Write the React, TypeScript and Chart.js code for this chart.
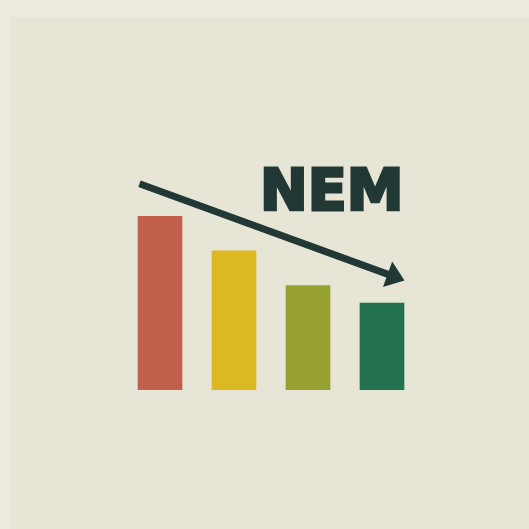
import React, { useEffect, useRef } from "react";
import { Chart, registerables } from "chart.js";

Chart.register(...registerables);

const categories = ["A", "B", "C", "D"];
const values = [100, 80, 60, 50];
const barColors = ["#C0604A", "#DCB823", "#97A12F", "#22714F"];
const title = "NEM";
// arrow endpoints in data units (y values) relative to first/last bar
const arrowStartValue = 118.5;
const arrowEndValue = 63;

const DARK = "#213835";

const overlayPlugin = {
  id: "overlay",
  afterDatasetsDraw(chart: any) {
    const { ctx, scales } = chart;
    const x = scales.x;
    const y = scales.y;
    const x0 = x.getPixelForValue(0) - 20.5;
    const y0 = y.getPixelForValue(arrowStartValue);
    const x1 = x.getPixelForValue(3) + 22.5;
    const y1 = y.getPixelForValue(arrowEndValue);
    const ang = Math.atan2(y1 - y0, x1 - x0);
    const headLen = 18;
    const headW = 13.5;
    const bx = x1 - Math.cos(ang) * headLen;
    const by = y1 - Math.sin(ang) * headLen;
    ctx.save();
    ctx.strokeStyle = DARK;
    ctx.fillStyle = DARK;
    ctx.lineWidth = 7;
    ctx.lineCap = "butt";
    ctx.beginPath();
    ctx.moveTo(x0, y0);
    ctx.lineTo(bx + Math.cos(ang) * 2, by + Math.sin(ang) * 2);
    ctx.stroke();
    ctx.beginPath();
    ctx.moveTo(x1, y1);
    ctx.lineTo(bx + Math.sin(ang) * headW, by - Math.cos(ang) * headW);
    ctx.lineTo(bx - Math.sin(ang) * headW, by + Math.cos(ang) * headW);
    ctx.closePath();
    ctx.fill();
    ctx.font = "bold 57px 'DejaVu Sans'";
    ctx.textAlign = "left";
    ctx.textBaseline = "alphabetic";
    ctx.lineWidth = 3;
    ctx.lineJoin = "miter";
    ctx.fillText(title, 260, 210);
    ctx.strokeText(title, 260, 210);
    ctx.restore();
  },
};

export default function App() {
  const ref = useRef<HTMLCanvasElement>(null);
  useEffect(() => {
    document.body.style.margin = "0";
    const chart = new Chart(ref.current!, {
      type: "bar",
      data: {
        labels: categories,
        datasets: [
          {
            data: values,
            backgroundColor: barColors,
            borderWidth: 0,
            barThickness: 44,
            categoryPercentage: 1,
          },
        ],
      },
      options: {
        animation: false,
        responsive: false,
        layout: { padding: { left: 123, right: 110, top: 216, bottom: 139 } },
        plugins: { legend: { display: false }, tooltip: { enabled: false } },
        scales: {
          x: { display: false, offset: true },
          y: { display: false, min: 0, max: 100 },
        },
      },
      plugins: [overlayPlugin],
    });
    return () => chart.destroy();
  }, []);
  return (
    <div style={{ position: "relative", width: 529, height: 529, background: "#EDEADF" }}>
      <div
        style={{
          position: "absolute",
          left: 10,
          top: 17,
          width: 519,
          height: 512,
          background: "#E7E6D6",
        }}
      />
      <canvas
        ref={ref}
        width={529}
        height={529}
        style={{ position: "absolute", left: 0, top: 0, width: 529, height: 529 }}
      />
    </div>
  );
}
